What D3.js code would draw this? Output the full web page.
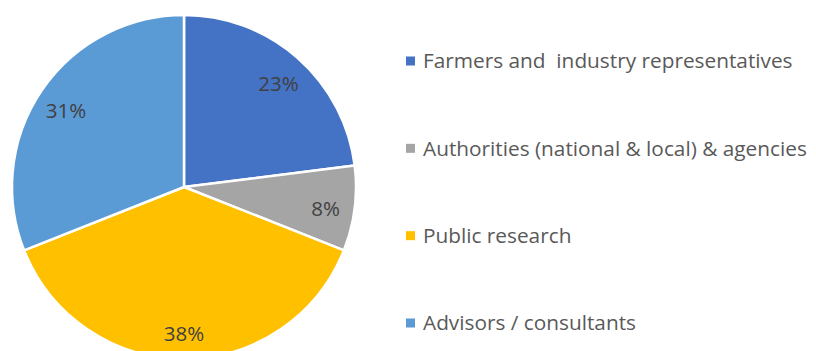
<!DOCTYPE html>
<html>
<head>
<meta charset="utf-8">
<script src="https://cdn.jsdelivr.net/npm/d3@7/dist/d3.min.js"></script>
<style>
  html, body { margin: 0; padding: 0; background: #fff; }
  svg { display: block; }
  text { font-family: "Open Sans", sans-serif; }
</style>
</head>
<body>
<svg id="chart" width="816" height="351"></svg>
<script>
// Stakeholder groups and their shares (%)
const categories = [
  "Farmers and  industry representatives",
  "Authorities (national & local) & agencies",
  "Public research",
  "Advisors / consultants"
];
const shares = [23, 8, 38, 31];
const colors = ["#4472C4", "#A5A5A5", "#FFC000", "#5B9BD5"];

const svg = d3.select("#chart");
const cx = 184, cy = 187, R = 172;

const pie = d3.pie().sort(null).value(d => d.value);
const data = categories.map((c, i) => ({ name: c, value: shares[i], color: colors[i] }));
const arcs = pie(data);

const arc = d3.arc().innerRadius(0).outerRadius(R);
const labelArc = d3.arc().innerRadius(R * 0.83).outerRadius(R * 0.83);

const g = svg.append("g").attr("transform", `translate(${cx},${cy})`);

g.selectAll("path.slice")
  .data(arcs)
  .join("path")
  .attr("class", "slice")
  .attr("d", arc)
  .attr("fill", d => d.data.color)
  .attr("stroke", "#fff")
  .attr("stroke-width", 2.5)
  .attr("stroke-linejoin", "round");

g.selectAll("text.pct")
  .data(arcs)
  .join("text")
  .attr("class", "pct")
  .attr("transform", d => {
    const [x, y] = labelArc.centroid(d);
    return `translate(${x},${y + 4})`;
  })
  .attr("text-anchor", "middle")
  .attr("dy", "0.35em")
  .attr("font-size", 20.5)
  .attr("fill", "#404040")
  .text(d => d.data.value + "%");

// Legend
const legend = svg.append("g").attr("transform", "translate(406,0)");
const rowY = d3.scalePoint().domain(categories).range([61, 323]);

const rows = legend.selectAll("g.row")
  .data(data)
  .join("g")
  .attr("class", "row")
  .attr("transform", d => `translate(0,${rowY(d.name)})`);

rows.append("rect")
  .attr("x", 0).attr("y", -4.5)
  .attr("width", 9).attr("height", 9)
  .attr("fill", d => d.color);

rows.append("text")
  .attr("x", 17)
  .attr("dy", "0.35em")
  .attr("font-size", 20.8)
  .attr("fill", "#595959")
  .style("white-space", "pre")
  .text(d => d.name);
</script>
</body>
</html>
